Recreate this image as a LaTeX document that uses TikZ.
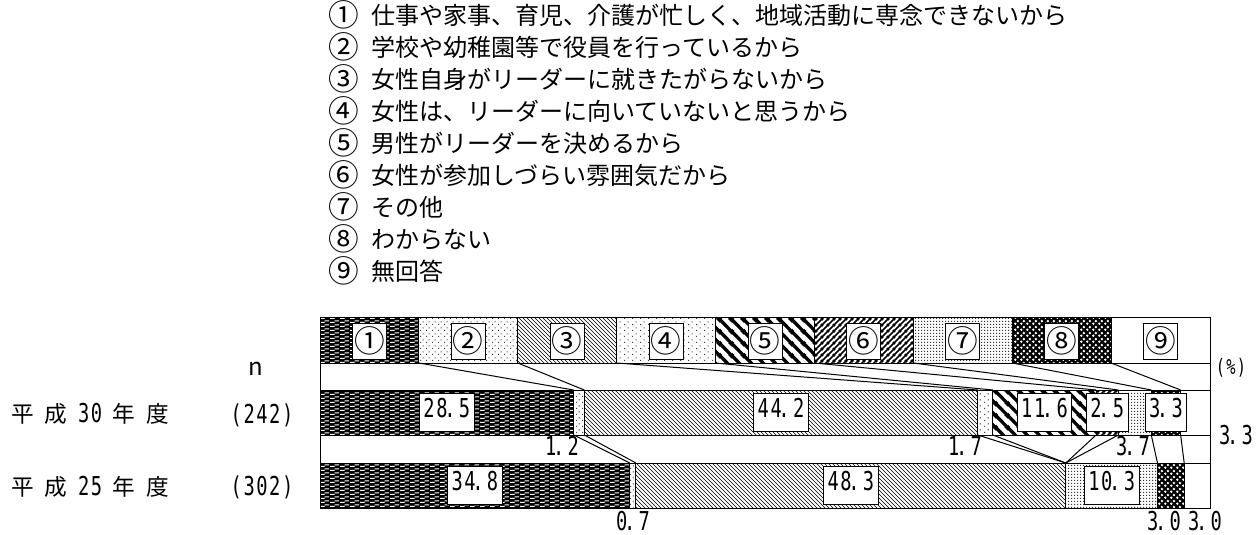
\documentclass[tikz,border=0pt]{standalone}
\usepackage{fontspec}
\setmainfont{Noto Sans CJK JP}
\newfontfamily\numfont[FakeStretch=0.72, LetterSpace=6]{DejaVu Sans Mono}
\usetikzlibrary{patterns}
\def\jpbig{\fontsize{18pt}{21pt}\selectfont}
\def\jpmid{\fontsize{17pt}{20pt}\selectfont}
\def\circfs{\fontsize{23pt}{26pt}\selectfont}
\def\numbig{\numfont\fontsize{19.5pt}{22pt}\selectfont}
\def\numsmall{\numfont\fontsize{16pt}{18pt}\selectfont}
\def\gap{\hspace{8pt}}
\def\pnt{\kern-2.5pt.\kern2.5pt}

\pgfdeclarepatternformonly{brickdash}{\pgfqpoint{0pt}{0pt}}{\pgfqpoint{7.5pt}{3pt}}{\pgfqpoint{7.5pt}{3pt}}{%
  \pgfpathrectangle{\pgfqpoint{0pt}{0pt}}{\pgfqpoint{3.75pt}{1pt}}%
  \pgfpathrectangle{\pgfqpoint{3.75pt}{1.5pt}}{\pgfqpoint{3.75pt}{1pt}}%
  \pgfusepath{fill}}
\pgfdeclarepatternformonly{sparsedots}{\pgfqpoint{0pt}{0pt}}{\pgfqpoint{4.5pt}{4.5pt}}{\pgfqpoint{4.5pt}{4.5pt}}{%
  \pgfpathrectangle{\pgfqpoint{0pt}{0pt}}{\pgfqpoint{0.9pt}{0.9pt}}%
  \pgfpathrectangle{\pgfqpoint{2.25pt}{2.25pt}}{\pgfqpoint{0.9pt}{0.9pt}}%
  \pgfusepath{fill}}
\pgfdeclarepatternformonly{widedots}{\pgfqpoint{0pt}{0pt}}{\pgfqpoint{6pt}{4.5pt}}{\pgfqpoint{6pt}{4.5pt}}{%
  \pgfpathrectangle{\pgfqpoint{0pt}{0pt}}{\pgfqpoint{0.9pt}{0.9pt}}%
  \pgfpathrectangle{\pgfqpoint{3pt}{2.25pt}}{\pgfqpoint{0.9pt}{0.9pt}}%
  \pgfusepath{fill}}
\pgfdeclarepatternformonly{boldstripes}{\pgfqpoint{0pt}{0pt}}{\pgfqpoint{9pt}{9pt}}{\pgfqpoint{9pt}{9pt}}{%
  \pgfsetlinewidth{2.6pt}%
  \pgfpathmoveto{\pgfqpoint{-1pt}{10pt}}\pgfpathlineto{\pgfqpoint{10pt}{-1pt}}%
  \pgfpathmoveto{\pgfqpoint{-2pt}{2pt}}\pgfpathlineto{\pgfqpoint{2pt}{-2pt}}%
  \pgfpathmoveto{\pgfqpoint{7pt}{11pt}}\pgfpathlineto{\pgfqpoint{11pt}{7pt}}%
  \pgfusepath{stroke}}
\pgfdeclarepatternformonly{slantlines}{\pgfqpoint{0pt}{0pt}}{\pgfqpoint{4.5pt}{4.5pt}}{\pgfqpoint{4.5pt}{4.5pt}}{%
  \pgfsetlinewidth{1.3pt}%
  \pgfpathmoveto{\pgfqpoint{-1pt}{-1pt}}\pgfpathlineto{\pgfqpoint{5.5pt}{5.5pt}}%
  \pgfpathmoveto{\pgfqpoint{-1pt}{3.5pt}}\pgfpathlineto{\pgfqpoint{1pt}{5.5pt}}%
  \pgfpathmoveto{\pgfqpoint{3.5pt}{-1pt}}\pgfpathlineto{\pgfqpoint{5.5pt}{1pt}}%
  \pgfusepath{stroke}}
\pgfdeclarepatternformonly{finedots}{\pgfqpoint{0pt}{0pt}}{\pgfqpoint{2.25pt}{2.25pt}}{\pgfqpoint{2.25pt}{2.25pt}}{%
  \pgfpathrectangle{\pgfqpoint{0pt}{0pt}}{\pgfqpoint{1.1pt}{1.1pt}}%
  \pgfusepath{fill}}
\pgfdeclarepatternformonly{holedots}{\pgfqpoint{0pt}{0pt}}{\pgfqpoint{4.5pt}{4.5pt}}{\pgfqpoint{4.5pt}{4.5pt}}{%
  \pgfpathcircle{\pgfqpoint{1.125pt}{1.125pt}}{1.15pt}%
  \pgfpathcircle{\pgfqpoint{3.375pt}{3.375pt}}{1.15pt}%
  \pgfusepath{fill}}

\tikzset{
  s1/.style={preaction={fill=black}, pattern=brickdash, pattern color=white},
  s2/.style={pattern=sparsedots, pattern color=black!75},
  s3/.style={pattern=north west lines, pattern color=black},
  s4/.style={pattern=widedots, pattern color=black!75},
  s5/.style={pattern=boldstripes, pattern color=black},
  s6/.style={pattern=slantlines, pattern color=black},
  s7/.style={pattern=finedots, pattern color=black!80},
  s8/.style={preaction={fill=black}, pattern=holedots, pattern color=white},
  s9/.style={fill=white},
  keybox/.style={draw, fill=white, line width=0.75pt, font=\circfs, minimum width=25.5pt, minimum height=27pt, inner sep=0pt},
  valbox/.style={draw, fill=white, line width=0.75pt, font=\numbig, minimum height=28.5pt, inner xsep=3pt, inner ysep=0pt, text height=0.73em, text depth=0pt},
  valtext/.style={font=\numbig, inner sep=0pt, text height=0.73em, text depth=0pt},
  legnum/.style={font=\circfs, inner sep=0pt},
  legtext/.style={font=\jpbig, anchor=west, inner sep=0pt, text height=0.82em, text depth=0.1em},
  rowlabel/.style={font=\jpmid, anchor=west, inner sep=0pt, text height=0.82em, text depth=0.1em}
}

\begin{document}
\begin{tikzpicture}[x=0.75pt, y=-0.75pt, line width=0.75pt]
			%%%%% START %%%%%
			\useasboundingbox (0,0) rectangle (1256,535);
			
			% legend list
			\node[legnum] (n1) at (344, 15) {①};
			\node[legtext] (t1) at (371, 20) {仕事や家事、育児、介護が忙しく、地域活動に専念できないから};
			\node[legnum] (n2) at (344, 47) {②};
			\node[legtext] (t2) at (371, 52) {学校や幼稚園等で役員を行っているから};
			\node[legnum] (n3) at (344, 79) {③};
			\node[legtext] (t3) at (371, 84) {女性自身がリーダーに就きたがらないから};
			\node[legnum] (n4) at (344, 111) {④};
			\node[legtext] (t4) at (371, 116) {女性は、リーダーに向いていないと思うから};
			\node[legnum] (n5) at (344, 143) {⑤};
			\node[legtext] (t5) at (371, 148) {男性がリーダーを決めるから};
			\node[legnum] (n6) at (344, 175) {⑥};
			\node[legtext] (t6) at (371, 180) {女性が参加しづらい雰囲気だから};
			\node[legnum] (n7) at (344, 207) {⑦};
			\node[legtext] (t7) at (371, 212) {その他};
			\node[legnum] (n8) at (344, 239) {⑧};
			\node[legtext] (t8) at (371, 244) {わからない};
			\node[legnum] (n9) at (344, 271) {⑨};
			\node[legtext] (t9) at (371, 276) {無回答};
			
			% key row
			\draw[s1] (320, 317) rectangle (418.9, 363);
			\draw[s2] (418.9, 317) rectangle (517.8, 363);
			\draw[s3] (517.8, 317) rectangle (616.7, 363);
			\draw[s4] (616.7, 317) rectangle (715.6, 363);
			\draw[s5] (715.6, 317) rectangle (814.4, 363);
			\draw[s6] (814.4, 317) rectangle (913.3, 363);
			\draw[s7] (913.3, 317) rectangle (1012.2, 363);
			\draw[s8] (1012.2, 317) rectangle (1111.1, 363);
			\draw[s9] (1111.1, 317) rectangle (1210, 363);
			
			% bar H30
			\draw[s1] (320, 390) rectangle (573.65, 435);
			\draw[s2] (573.65, 390) rectangle (584.33, 435);
			\draw[s3] (584.33, 390) rectangle (977.71, 435);
			\draw[s4] (977.71, 390) rectangle (992.84, 435);
			\draw[s5] (992.84, 390) rectangle (1096.08, 435);
			\draw[s6] (1096.08, 390) rectangle (1118.33, 435);
			\draw[s7] (1118.33, 390) rectangle (1151.26, 435);
			\draw[s8] (1151.26, 390) rectangle (1180.63, 435);
			\draw[s9] (1180.63, 390) rectangle (1210, 435);
			
			% bar H25
			\draw[s1] (320, 463) rectangle (629.72, 508);
			\draw[s2] (629.72, 463) rectangle (635.95, 508);
			\draw[s3] (635.95, 463) rectangle (1065.82, 508);
			\draw[s7] (1065.82, 463) rectangle (1157.49, 508);
			\draw[s8] (1157.49, 463) rectangle (1184.19, 508);
			\draw[s9] (1184.19, 463) rectangle (1210, 508);
			
			% frame
			\draw (320, 317) rectangle (1210, 508);
			\draw (320, 363) -- (1210, 363);
			\draw (320, 390) -- (1210, 390);
			\draw (320, 435) -- (1210, 435);
			\draw (320, 463) -- (1210, 463);
			
			% boundaries
			\coordinate (kb1) at (418.9, 363);
			\coordinate (kb2) at (517.8, 363);
			\coordinate (kb3) at (616.7, 363);
			\coordinate (kb4) at (715.6, 363);
			\coordinate (kb5) at (814.4, 363);
			\coordinate (kb6) at (913.3, 363);
			\coordinate (kb7) at (1012.2, 363);
			\coordinate (kb8) at (1111.1, 363);
			
			\coordinate (h30t1) at (573.65, 390);
			\coordinate (h30t2) at (584.33, 390);
			\coordinate (h30t3) at (977.71, 390);
			\coordinate (h30t4) at (992.84, 390);
			\coordinate (h30t5) at (1096.08, 390);
			\coordinate (h30t6) at (1118.33, 390);
			\coordinate (h30t7) at (1151.26, 390);
			\coordinate (h30t8) at (1180.63, 390);
			
			\coordinate (h30b1) at (573.65, 435);
			\coordinate (h30b2) at (584.33, 435);
			\coordinate (h30b3) at (977.71, 435);
			\coordinate (h30b4) at (992.84, 435);
			\coordinate (h30b5) at (1096.08, 435);
			\coordinate (h30b6) at (1118.33, 435);
			\coordinate (h30b7) at (1151.26, 435);
			\coordinate (h30b8) at (1180.63, 435);
			
			\coordinate (h25t1) at (629.72, 463);
			\coordinate (h25t2) at (635.95, 463);
			\coordinate (h25t3) at (1065.82, 463);
			\coordinate (h25t7) at (1157.49, 463);
			\coordinate (h25t8) at (1184.19, 463);
			
			% connectors
			\draw (kb1) -- (h30t1);
			\draw (kb2) -- (h30t2);
			\draw (kb3) -- (h30t3);
			\draw (kb4) -- (h30t4);
			\draw (kb5) -- (h30t5);
			\draw (kb6) -- (h30t6);
			\draw (kb7) -- (h30t7);
			\draw (kb8) -- (h30t8);
			
			\draw (h30b1) -- (h25t1);
			\draw (h30b2) -- (h25t2);
			\draw (h30b3) -- (h25t3);
			\draw (h30b4) -- (h25t3);
			\draw (h30b5) -- (h25t3);
			\draw (h30b6) -- (h25t3);
			\draw (h30b7) -- (h25t7);
			\draw (h30b8) -- (h25t8);
			
			% key boxes
			\node[keybox] (key1) at (369.4, 341) {①};
			\node[keybox] (key2) at (468.3, 341) {②};
			\node[keybox] (key3) at (567.2, 341) {③};
			\node[keybox] (key4) at (666.1, 341) {④};
			\node[keybox] (key5) at (765, 341) {⑤};
			\node[keybox] (key6) at (863.9, 341) {⑥};
			\node[keybox] (key7) at (962.8, 341) {⑦};
			\node[keybox] (key8) at (1061.7, 341) {⑧};
			\node[keybox] (key9) at (1160.6, 341) {⑨};
			
			% values
			\node[valbox] (v30a) at (446.8, 412.5) {28\pnt 5};
			\node[valbox] (v30c) at (781.0, 412.5) {44\pnt 2};
			\node[valbox] (v30e) at (1044.5, 412.5) {11\pnt 6};
			\node[valbox] (v30f) at (1107.2, 412.5) {2\pnt 5};
			\node[valbox] (v30h) at (1165.9, 412.5) {3\pnt 3};
			\node[valbox] (v25a) at (474.9, 485.5) {34\pnt 8};
			\node[valbox] (v25c) at (850.9, 485.5) {48\pnt 3};
			\node[valbox] (v25g) at (1111.7, 485.5) {10\pnt 3};
			
			\node[valtext] (v30b) at (562, 451) {1\pnt 2};
			\node[valtext] (v30d) at (965, 451) {1\pnt 7};
			\node[valtext] (v30g) at (1133, 451) {3\pnt 7};
			\node[valtext] (v30i) at (1236, 440) {3\pnt 3};
			\node[valtext] (v25b) at (633, 526) {0\pnt 7};
			\node[valtext] (v25h) at (1164, 526) {3\pnt 0};
			\node[valtext] (v25i) at (1205, 526) {3\pnt 0};
			
			% row labels
			\node[font=\jpbig, inner sep=0pt] (nlab) at (255.5, 369) {n};
			\node[font=\numsmall, inner sep=0pt] (pct) at (1231, 368) {(\%)};
			\node[rowlabel] (y30) at (11, 418) {平\gap 成\gap{\numbig 30}\gap 年\gap 度};
			\node[valtext] (n30) at (262, 419) {(242)};
			\node[rowlabel] (y25) at (11, 491) {平\gap 成\gap{\numbig 25}\gap 年\gap 度};
			\node[valtext] (n25) at (262, 491) {(302)};
			
			%%%%% END %%%%%
\end{tikzpicture}
\end{document}
